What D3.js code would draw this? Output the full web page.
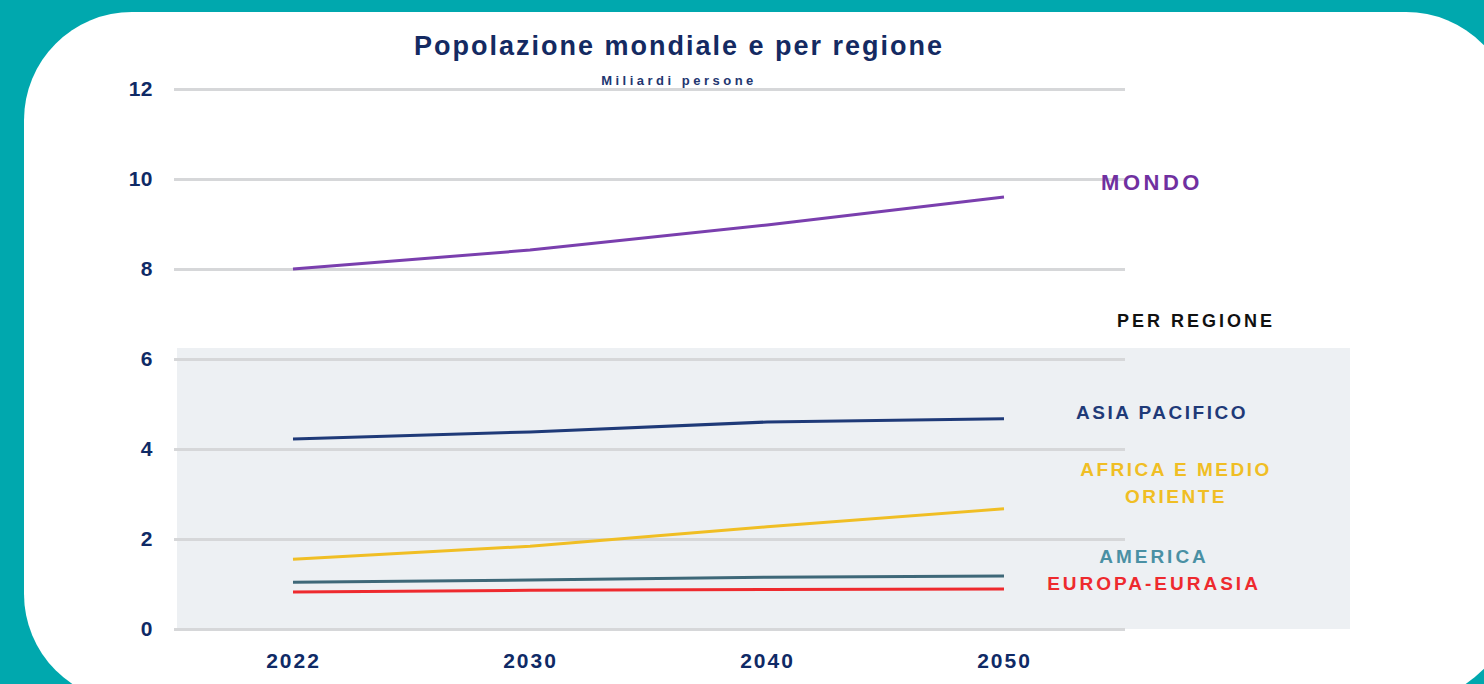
<!DOCTYPE html>
<html>
<head>
<meta charset="utf-8">
<script src="https://cdn.jsdelivr.net/npm/d3@7"></script>
<style>
  html, body { margin: 0; padding: 0; background: #00a8ae; overflow: hidden; }
  svg { display: block; font-family: "Liberation Sans", Arial, sans-serif; }
</style>
</head>
<body>
<svg id="chart" width="1484" height="684"></svg>
<script>
// data (miliardi di persone)
var years = ['2022', '2030', '2040', '2050'];
var mondo = [8.0, 8.42, 8.98, 9.6];
var asiaPacifico = [4.22, 4.38, 4.6, 4.67];
var africaMedioOriente = [1.55, 1.84, 2.27, 2.67];
var america = [1.04, 1.09, 1.15, 1.18];
var europaEurasia = [0.82, 0.86, 0.88, 0.89];
var yTicks = [0, 2, 4, 6, 8, 10, 12];

var series = [
    { name: 'MONDO', values: mondo, color: '#7a3fae' },
    { name: 'ASIA PACIFICO', values: asiaPacifico, color: '#1f3a78' },
    { name: 'AFRICA E MEDIO ORIENTE', values: africaMedioOriente, color: '#f0be24' },
    { name: 'AMERICA', values: america, color: '#3e6878' },
    { name: 'EUROPA-EURASIA', values: europaEurasia, color: '#ee2a2e' }
];

var svg = d3.select('#chart');
var navy = '#0f2a66';

// white card
svg.append('rect')
    .attr('x', 24).attr('y', 12)
    .attr('width', 1490).attr('height', 690)
    .attr('rx', 108).attr('ry', 108)
    .style('fill', '#ffffff');

var x = d3.scalePoint().domain(years).range([293, 1004]);
var y = d3.scaleLinear().domain([0, 12]).range([629, 89]);

// shaded "per regione" area
svg.append('rect')
    .attr('x', 177).attr('y', y(6) - 11)
    .attr('width', 1350 - 177).attr('height', y(0) - y(6) + 11)
    .style('fill', '#edf0f3');

// gridlines + y labels
var yAxis = d3.axisLeft(y).tickValues(yTicks).tickSize(-(1125 - 174)).tickPadding(21);
svg.append('g')
    .attr('transform', 'translate(174,0)')
    .call(yAxis)
    .call(g => g.select('.domain').remove())
    .call(g => g.selectAll('line').style('stroke', '#d6d7d9').style('stroke-width', 3))
    .call(g => g.selectAll('text')
        .style('font-size', '21px').style('font-weight', 'bold')
        .style('letter-spacing', '0.5px')
        .style('fill', navy));

// x labels
var xAxis = d3.axisBottom(x).tickSize(0).tickPadding(0);
svg.append('g')
    .attr('transform', 'translate(0,653)')
    .call(xAxis)
    .call(g => g.select('.domain').remove())
    .call(g => g.selectAll('text')
        .attr('dy', '0.71em')
        .style('font-size', '21px').style('font-weight', 'bold')
        .style('letter-spacing', '2px')
        .style('fill', navy));

// lines
var line = d3.line()
    .x((d, i) => x(years[i]))
    .y(d => y(d));

svg.selectAll('.serie')
    .data(series)
    .enter().append('path')
    .attr('class', 'serie')
    .attr('d', d => line(d.values))
    .style('fill', 'none')
    .style('stroke', d => d.color)
    .style('stroke-width', 3);

// title
svg.append('text')
    .attr('x', 679).attr('y', 55)
    .attr('text-anchor', 'middle')
    .style('font-size', '27px').style('font-weight', 'bold')
    .style('letter-spacing', '2px')
    .style('fill', '#142a62')
    .text('Popolazione mondiale e per regione');

svg.append('text')
    .attr('x', 679).attr('y', 85)
    .attr('text-anchor', 'middle')
    .style('font-size', '13px').style('font-weight', 'bold')
    .style('letter-spacing', '3.5px')
    .style('fill', '#223670')
    .text('Miliardi persone');

// labels
var labels = [
    { text: ['MONDO'], x: 1152, y: 190, color: '#7030a0', size: 22, ls: 3.5 },
    { text: ['PER REGIONE'], x: 1196, y: 327, color: '#111111', size: 18, ls: 3 },
    { text: ['ASIA PACIFICO'], x: 1162, y: 419, color: '#1f3a78', size: 19, ls: 2.5 },
    { text: ['AFRICA E MEDIO', 'ORIENTE'], x: 1176, y: 476, color: '#f0be24', size: 19, ls: 2.5 },
    { text: ['AMERICA'], x: 1154, y: 563, color: '#4a90a4', size: 19, ls: 3 },
    { text: ['EUROPA-EURASIA'], x: 1154, y: 590, color: '#ee2a2e', size: 19, ls: 3 }
];

svg.selectAll('.lbl')
    .data(labels)
    .enter().append('text')
    .attr('class', 'lbl')
    .attr('text-anchor', 'middle')
    .style('font-weight', 'bold')
    .style('font-size', d => d.size + 'px')
    .style('letter-spacing', d => d.ls + 'px')
    .style('fill', d => d.color)
    .each(function (d) {
        d3.select(this).selectAll('tspan')
            .data(d.text).enter()
            .append('tspan')
            .attr('x', d.x)
            .attr('y', (t, i) => d.y + i * 27)
            .text(t => t);
    });
</script>
</body>
</html>
